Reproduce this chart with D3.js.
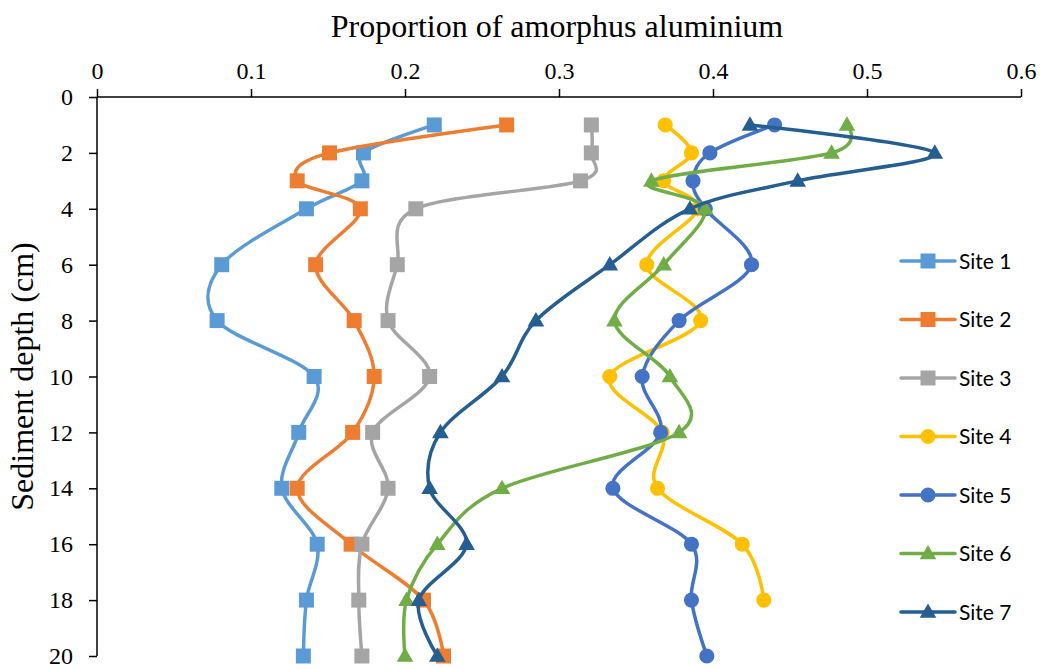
<!DOCTYPE html>
<html>
<head>
<meta charset="utf-8">
<script src="https://cdn.jsdelivr.net/npm/d3@7"></script>
<style>
  html, body { margin: 0; padding: 0; background: #fff; }
  svg { display: block; }
</style>
</head>
<body>
<svg id="chart" width="1042" height="669"></svg>
<script>
const depths = [1, 2, 3, 4, 6, 8, 10, 12, 14, 16, 18, 20];
const site1 = [0.219, 0.173, 0.172, 0.136, 0.081, 0.078, 0.141, 0.131, 0.120, 0.143, 0.136, 0.134];
const site2 = [0.266, 0.151, 0.130, 0.171, 0.142, 0.167, 0.180, 0.166, 0.130, 0.165, 0.212, 0.225];
const site3 = [0.321, 0.321, 0.314, 0.207, 0.195, 0.189, 0.216, 0.179, 0.189, 0.172, 0.170, 0.172];
const site4 = [0.369, 0.386, 0.368, 0.390, 0.357, 0.392, 0.333, 0.367, 0.364, 0.419, 0.433, null];
const site5 = [0.440, 0.398, 0.387, 0.395, 0.425, 0.378, 0.354, 0.366, 0.335, 0.386, 0.386, 0.396];
const site6 = [0.487, 0.477, 0.360, 0.395, 0.368, 0.336, 0.372, 0.378, 0.263, 0.221, 0.201, 0.200];
const site7 = [0.424, 0.544, 0.455, 0.385, 0.333, 0.285, 0.263, 0.223, 0.216, 0.240, 0.209, 0.221];

const seriesNames = ["Site 1", "Site 2", "Site 3", "Site 4", "Site 5", "Site 6", "Site 7"];
const seriesValues = [site1, site2, site3, site4, site5, site6, site7];
const seriesColors = ["#5B9BD5", "#ED7D31", "#A5A5A5", "#FFC000", "#4472C4", "#70AD47", "#255E91"];
const seriesMarkers = ["square", "square", "square", "circle", "circle", "triangle", "triangle"];

const xTicks = [0, 0.1, 0.2, 0.3, 0.4, 0.5, 0.6];
const yTicks = [0, 2, 4, 6, 8, 10, 12, 14, 16, 18, 20];

const xTitle = "Proportion of amorphus aluminium";
const yTitle = "Sediment depth (cm)";

(function () {
const svg = d3.select("#chart");
const pL = 97, pR = 1021, pT = 97, pB = 656;

const x = d3.scaleLinear().domain([0, 0.6]).range([pL, pR]);
const y = d3.scaleLinear().domain([0, 20]).range([pT, pB]);
const serif = "'Liberation Serif', 'Times New Roman', serif";

// axes
const xAxis = d3.axisTop(x).tickValues(xTicks).tickSize(8).tickPadding(10)
  .tickFormat(d => d === 0 ? "0" : d3.format(".1f")(d));
const gx = svg.append("g").attr("transform", `translate(0,${pT})`).call(xAxis);
gx.select(".domain").attr("stroke", "#000").attr("stroke-width", 1.5)
  .attr("d", `M${pL},0H${pR}`);
gx.selectAll(".tick line").attr("stroke", "#000").attr("stroke-width", 1.5);
gx.selectAll(".tick text").attr("font-family", serif)
  .attr("font-size", 24).attr("fill", "#000");

const yAxis = d3.axisLeft(y).tickValues(yTicks).tickSize(8).tickPadding(16);
const gy = svg.append("g").attr("transform", `translate(${pL},0)`).call(yAxis);
gy.select(".domain").attr("stroke", "#000").attr("stroke-width", 1.5)
  .attr("d", `M0,${pT}V${pB}`);
gy.selectAll(".tick line").attr("stroke", "#000").attr("stroke-width", 1.5);
gy.selectAll(".tick text").attr("font-family", serif)
  .attr("font-size", 24).attr("fill", "#000");

// titles
svg.append("text").attr("x", (pL + pR) / 2 - 2).attr("y", 37)
  .attr("text-anchor", "middle")
  .attr("font-family", serif)
  .attr("font-size", 32).attr("fill", "#000").text(xTitle);

svg.append("text")
  .attr("transform", `translate(33,${(pT + pB) / 2}) rotate(-90)`)
  .attr("text-anchor", "middle")
  .attr("font-family", serif)
  .attr("font-size", 32).attr("fill", "#000").text(yTitle);

// marker shapes
const symbolFor = m => m === "square" ? d3.symbolSquare : (m === "circle" ? d3.symbolCircle : d3.symbolTriangle);
const sizeFor = m => m === "square" ? 225 : (m === "circle" ? 180 : 120);

const line = d3.line()
  .defined(d => d.v !== null)
  .x(d => x(d.v)).y(d => y(d.depth))
  .curve(d3.curveCardinal.tension(0));

seriesValues.forEach((vals, i) => {
  const pts = depths.map((dep, j) => ({ depth: dep, v: vals[j] }));
  const g = svg.append("g");
  g.append("path").attr("d", line(pts))
    .attr("fill", "none").attr("stroke", seriesColors[i])
    .attr("stroke-width", 3.5).attr("stroke-linejoin", "round").attr("stroke-linecap", "round");
  const sym = d3.symbol().type(symbolFor(seriesMarkers[i])).size(sizeFor(seriesMarkers[i]));
  g.selectAll("path.m").data(pts.filter(d => d.v !== null)).enter().append("path")
    .attr("class", "m")
    .attr("d", sym)
    .attr("transform", d => `translate(${x(d.v)},${y(d.depth) + (seriesMarkers[i] === "triangle" ? 1 : 0)})`)
    .attr("fill", seriesColors[i]);
});

// legend
const legX = 901, legY0 = 261, legStep = 58.5;
seriesNames.forEach((name, i) => {
  const ly = legY0 + i * legStep;
  const g = svg.append("g");
  g.append("line").attr("x1", legX).attr("x2", legX + 54).attr("y1", ly).attr("y2", ly)
    .attr("stroke", seriesColors[i]).attr("stroke-width", 3.5).attr("stroke-linecap", "round");
  const sym = d3.symbol().type(symbolFor(seriesMarkers[i])).size(sizeFor(seriesMarkers[i]));
  g.append("path").attr("d", sym)
    .attr("transform", `translate(${legX + 27},${ly + (seriesMarkers[i] === "triangle" ? 1 : 0)})`)
    .attr("fill", seriesColors[i]);
  g.append("text").attr("x", legX + 58).attr("y", ly + 7.5)
    .attr("font-family", "Lato, 'Open Sans', sans-serif")
    .attr("font-size", 21).attr("fill", "#000").text(name);
});
})();
</script>
</body>
</html>
